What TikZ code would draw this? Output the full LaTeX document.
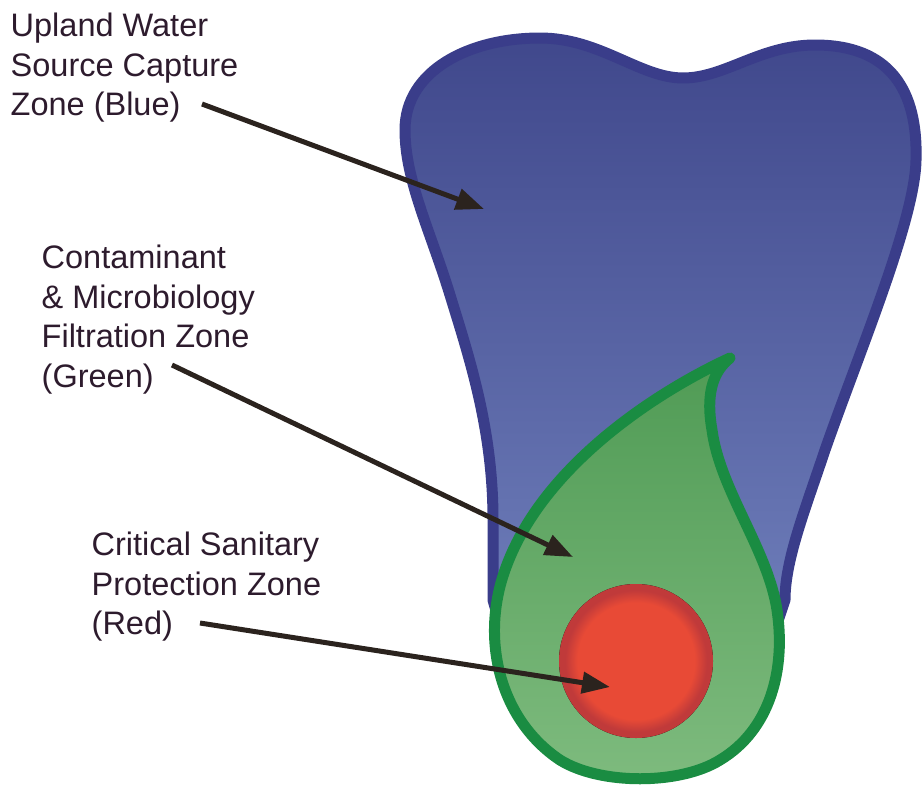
\documentclass[tikz,border=0pt]{standalone}
\usepackage{fontspec}
\setmainfont{Liberation Sans}
\usepackage{tikz}
\usetikzlibrary{arrows.meta}

\definecolor{bluezone}{RGB}{58,61,138}
\definecolor{bluetop}{RGB}{64,72,140}
\definecolor{bluebot}{RGB}{112,128,188}
\definecolor{greenzone}{RGB}{26,140,66}
\definecolor{greentop}{RGB}{80,155,85}
\definecolor{greenbot}{RGB}{126,187,126}
\definecolor{redin}{RGB}{232,74,54}
\definecolor{redout}{RGB}{192,58,58}
\definecolor{labelink}{RGB}{45,27,45}
\definecolor{pointerink}{RGB}{43,35,30}

\pgfdeclareradialshading{redzone}{\pgfpoint{0bp}{0bp}}{color(0bp)=(redin); color(19bp)=(redin); color(23bp)=(redout); color(25bp)=(redout); color(50bp)=(redout)}

\begin{document}
\begin{tikzpicture}[x=1pt, y=-1pt,
  zonelabel/.style={anchor=north west, inner sep=0pt, align=left, text=labelink, font=\fontsize{32.5}{39.5}\selectfont},
  pointer/.style={draw=pointerink, line width=5pt, -{Triangle[length=28pt,width=21pt]}}]
  \useasboundingbox (0,0) rectangle (923,787);
  \draw[bluezone, line width=11pt, line join=round, top color=bluetop, bottom color=bluebot]
    (510,660) -- (493,600) -- (493,520) .. controls (493,430) and (470,360) .. (450,295)
    .. controls (430,230) and (405,180) .. (405,130) .. controls (405,70) and (470,38) .. (540,38)
    .. controls (600,38) and (640,78) .. (683,78) .. controls (725,78) and (760,45) .. (815,45)
    .. controls (890,45) and (918,90) .. (916,160) .. controls (915,220) and (860,350) .. (825,450)
    .. controls (805,510) and (785,560) .. (785,600) -- (765,660) -- cycle;
  \draw[greenzone, line width=11pt, line join=round, top color=greentop, bottom color=greenbot]
    (730,358) .. controls (650,395) and (540,470) .. (505,570) .. controls (480,640) and (500,720) .. (560,760)
    .. controls (600,785) and (680,785) .. (720,760) .. controls (770,730) and (786,670) .. (777,610)
    .. controls (768,550) and (720,490) .. (712,430) .. controls (705,390) and (715,370) .. cycle;
  \fill[shading=redzone] (636,661) circle[radius=77];
  \node[zonelabel] (blue label) at (10.5,13) {Upland Water\\Source Capture\\Zone (Blue)};
  \node[zonelabel] (green label) at (41.5,245) {Contaminant\\\& Microbiology\\Filtration Zone\\(Green)};
  \node[zonelabel] (red label) at (91.5,532) {Critical Sanitary\\Protection Zone\\(Red)};
  \coordinate (blue from) at (202,104);
  \coordinate (blue to) at (484,209);
  \coordinate (green from) at (172,365);
  \coordinate (green to) at (573,557);
  \coordinate (red from) at (200,623);
  \coordinate (red to) at (610,687);
  \draw[pointer] (blue from) -- (blue to);
  \draw[pointer] (green from) -- (green to);
  \draw[pointer] (red from) -- (red to);
\end{tikzpicture}
\end{document}
